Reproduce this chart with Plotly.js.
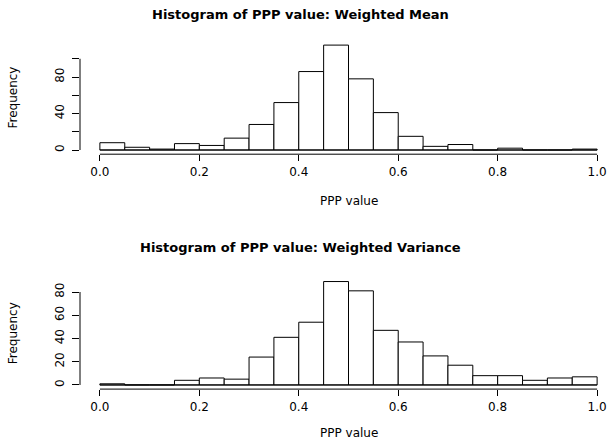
<!DOCTYPE html>
<html>
<head>
<meta charset="utf-8">
<script src="https://cdn.plot.ly/plotly-3.0.1.min.js"></script>
<style>
html,body{margin:0;padding:0;overflow:hidden;background:#fff;}
#chart{width:630px;height:441px;}
</style>
</head>
<body>
<div id="chart"></div>
<script>
// ---- data ----
var binMids = [0.025,0.075,0.125,0.175,0.225,0.275,0.325,0.375,0.425,0.475,
               0.525,0.575,0.625,0.675,0.725,0.775,0.825,0.875,0.925,0.975];
var binWidth = 0.05;
var meanCounts = [8,3,1,7,5,13,28,52,86,115,78,41,15,4,6,0,2,0,0,1];
var varCounts  = [1,0,0,4,6,5,24,41,54,89,81,47,37,25,17,8,8,4,6,7];
var xTickVals = [0,0.2,0.4,0.6,0.8,1.0];
var xTickText = ['0.0','0.2','0.4','0.6','0.8','1.0'];
var yTickVals1 = [0,20,40,60,80,100];
var yTickText1 = ['0','','40','','80',''];
var yTickVals2 = [0,20,40,60,80];
var yTickText2 = ['0','20','40','60','80'];
var title1 = 'Histogram of PPP value: Weighted Mean';
var title2 = 'Histogram of PPP value: Weighted Variance';
var xLabel = 'PPP value';
var yLabel = 'Frequency';

var FONT = 'DejaVu Sans, Liberation Sans, Arial, sans-serif';
var W = 630, H = 441;
function py(p){ return 1 - p/H; }
function pxx(p){ return (p - 80)/537; }

function bars(counts, xa, ya){
  return {
    type:'bar', x:binMids, y:counts, width:binWidth,
    xaxis:xa, yaxis:ya,
    marker:{color:'#ffffff', line:{color:'#000000', width:1}},
    hoverinfo:'skip', showlegend:false
  };
}

var maxM = Math.max.apply(null, meanCounts);
var maxV = Math.max.apply(null, varCounts);
function padRange(lo, hi){ var d=(hi-lo)*0.04; return [lo-d, hi+d]; }

function xax(anchor){
  return {
    anchor:anchor, domain:[0,1], range:padRange(0,1), showgrid:false, zeroline:false,
    showline:false, ticks:'outside', ticklen:6, tickwidth:1, tickcolor:'#000',
    tickvals:xTickVals, ticktext:xTickText,
    tickfont:{family:FONT, size:12, color:'#000'}
  };
}
function yax(anchor, dom, maxc, tv, tt){
  return {
    anchor:anchor, domain:dom, range:padRange(0,maxc), showgrid:false, zeroline:false,
    showline:false, ticks:'outside', ticklen:7, tickwidth:1, tickcolor:'#000',
    tickvals:tv, ticktext:tt, tickangle:-90, ticklabelstandoff:3,
    tickfont:{family:FONT, size:12, color:'#000'}
  };
}

var dom1 = [py(154.2), py(40.9)];
var dom2 = [py(389.1), py(277.4)];

var lastEdge = binMids[binMids.length-1] + binWidth/2;
var firstEdge = binMids[0] - binWidth/2;

var shapes = [
  {type:'line', xref:'x', yref:'paper', x0:xTickVals[0], x1:xTickVals[xTickVals.length-1], y0:dom1[0], y1:dom1[0], line:{color:'#000', width:1}},
  {type:'line', xref:'x2', yref:'paper', x0:xTickVals[0], x1:xTickVals[xTickVals.length-1], y0:dom2[0], y1:dom2[0], line:{color:'#000', width:1}},
  {type:'line', xref:'paper', yref:'y', x0:0, x1:0, y0:yTickVals1[0], y1:yTickVals1[yTickVals1.length-1], line:{color:'#000', width:1}},
  {type:'line', xref:'paper', yref:'y2', x0:0, x1:0, y0:yTickVals2[0], y1:yTickVals2[yTickVals2.length-1], line:{color:'#000', width:1}},
  {type:'line', xref:'x', yref:'y', x0:firstEdge, x1:lastEdge, y0:0, y1:0, line:{color:'#000', width:1}},
  {type:'line', xref:'x2', yref:'y2', x0:firstEdge, x1:lastEdge, y0:0, y1:0, line:{color:'#000', width:1}}
];

var annotations = [
  {text:'<b>'+title1+'</b>', xref:'paper', yref:'paper', x:pxx(300), y:py(14), xanchor:'center', yanchor:'middle', showarrow:false, font:{family:FONT, size:13, color:'#000'}},
  {text:'<b>'+title2+'</b>', xref:'paper', yref:'paper', x:pxx(300), y:py(247), xanchor:'center', yanchor:'middle', showarrow:false, font:{family:FONT, size:13, color:'#000'}},
  {text:xLabel, xref:'paper', yref:'paper', x:pxx(349), y:py(201), xanchor:'center', yanchor:'middle', showarrow:false, font:{family:FONT, size:12, color:'#000'}},
  {text:xLabel, xref:'paper', yref:'paper', x:pxx(349), y:py(433), xanchor:'center', yanchor:'middle', showarrow:false, font:{family:FONT, size:12, color:'#000'}},
  {text:yLabel, xref:'paper', yref:'paper', x:pxx(13), y:(dom1[0]+dom1[1])/2, xanchor:'center', yanchor:'middle', textangle:-90, showarrow:false, font:{family:FONT, size:12, color:'#000'}},
  {text:yLabel, xref:'paper', yref:'paper', x:pxx(13), y:(dom2[0]+dom2[1])/2, xanchor:'center', yanchor:'middle', textangle:-90, showarrow:false, font:{family:FONT, size:12, color:'#000'}}
];

var layout = {
  width:W, height:H,
  margin:{l:80, r:13, t:0, b:0, pad:0},
  paper_bgcolor:'#fff', plot_bgcolor:'#fff',
  bargap:0, showlegend:false,
  xaxis:xax('y'), yaxis:yax('x', dom1, maxM, yTickVals1, yTickText1),
  xaxis2:xax('y2'), yaxis2:yax('x2', dom2, maxV, yTickVals2, yTickText2),
  shapes:shapes, annotations:annotations
};

Plotly.newPlot('chart', [bars(meanCounts,'x','y'), bars(varCounts,'x2','y2')], layout, {staticPlot:true, displayModeBar:false});
</script>
</body>
</html>
